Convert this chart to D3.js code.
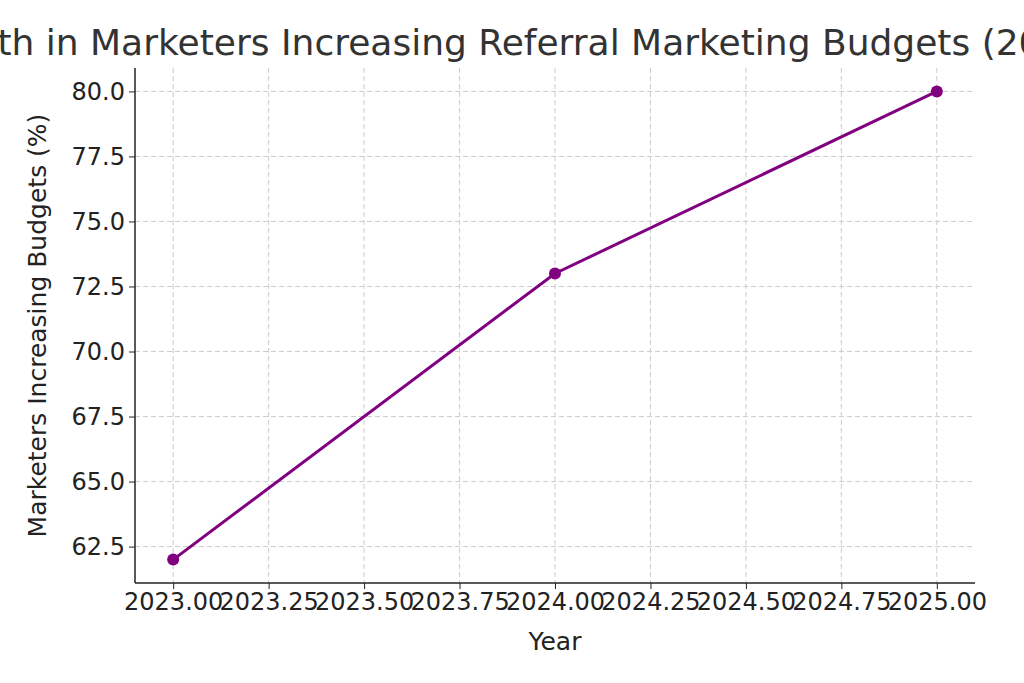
<!DOCTYPE html>
<html>
<head>
<meta charset="utf-8">
<script src="https://cdn.jsdelivr.net/npm/d3@7"></script>
<style>
  body { margin: 0; background: #fff; }
  text { font-family: "DejaVu Sans", sans-serif; fill: #333; }
</style>
</head>
<body>
<svg id="chart"></svg>
<script>
// data
const years = [2023, 2024, 2025];
const percents = [62, 73, 80];
const xTicks = [2023, 2023.25, 2023.5, 2023.75, 2024, 2024.25, 2024.5, 2024.75, 2025];
const yTicks = [62.5, 65, 67.5, 70, 72.5, 75, 77.5, 80];

const width = 1024, height = 683;
const margin = { top: 68, right: 49, bottom: 100, left: 135 };
const innerW = width - margin.left - margin.right;
const innerH = height - margin.top - margin.bottom;

const svg = d3.select('#chart').attr('width', width).attr('height', height);
const chart = svg.append('g').attr('transform', `translate(${margin.left},${margin.top})`);

const x = d3.scaleLinear().domain([2022.9, 2025.1]).range([0, innerW]);
const y = d3.scaleLinear().domain([61.1, 80.9]).range([innerH, 0]);

// grid
chart.append('g').selectAll('line').data(xTicks).join('line')
  .attr('x1', d => x(d)).attr('x2', d => x(d)).attr('y1', 0).attr('y2', innerH)
  .attr('stroke', '#ccc').attr('stroke-dasharray', '5,3');
chart.append('g').selectAll('line').data(yTicks).join('line')
  .attr('y1', d => y(d)).attr('y2', d => y(d)).attr('x1', 0).attr('x2', innerW)
  .attr('stroke', '#ccc').attr('stroke-dasharray', '5,3');

// axes
const xAxisG = chart.append('g').attr('transform', `translate(0,${innerH})`)
  .call(d3.axisBottom(x).tickValues(xTicks).tickFormat(d3.format('.2f')).tickSize(6).tickPadding(4));
const yAxisG = chart.append('g')
  .call(d3.axisLeft(y).tickValues(yTicks).tickFormat(d3.format('.1f')).tickSize(6).tickPadding(4));
[xAxisG, yAxisG].forEach(g => {
  g.select('.domain').remove();
  g.selectAll('line').attr('stroke', '#222');
  g.selectAll('text').style('font-size', '24px').style('fill', '#222');
});
chart.append('line').attr('x1', 0).attr('x2', innerW).attr('y1', innerH).attr('y2', innerH).attr('stroke', '#222').attr('stroke-width', 1.5);
chart.append('line').attr('x1', 0).attr('x2', 0).attr('y1', 0).attr('y2', innerH).attr('stroke', '#222').attr('stroke-width', 1.5);

// line
const pts = years.map((d, i) => ({ x: d, y: percents[i] }));
chart.append('path').datum(pts)
  .attr('fill', 'none').attr('stroke', '#800080').attr('stroke-width', 3)
  .attr('d', d3.line().x(d => x(d.x)).y(d => y(d.y)));
chart.selectAll('.dot').data(pts).join('circle')
  .attr('class', 'dot').attr('cx', d => x(d.x)).attr('cy', d => y(d.y))
  .attr('r', 6).attr('fill', '#800080');

// labels
svg.append('text').attr('x', margin.left + innerW / 2).attr('y', 55)
  .attr('text-anchor', 'middle').style('font-size', '36px')
  .text('Growth in Marketers Increasing Referral Marketing Budgets (2023-2025)');
svg.append('text').attr('x', margin.left + innerW / 2).attr('y', 650)
  .attr('text-anchor', 'middle').style('font-size', '25px').style('fill', '#222').text('Year');
svg.append('text').attr('transform', `translate(46,${margin.top + innerH / 2}) rotate(-90)`)
  .attr('text-anchor', 'middle').style('font-size', '25px').style('fill', '#222')
  .text('Marketers Increasing Budgets (%)');
</script>
</body>
</html>
